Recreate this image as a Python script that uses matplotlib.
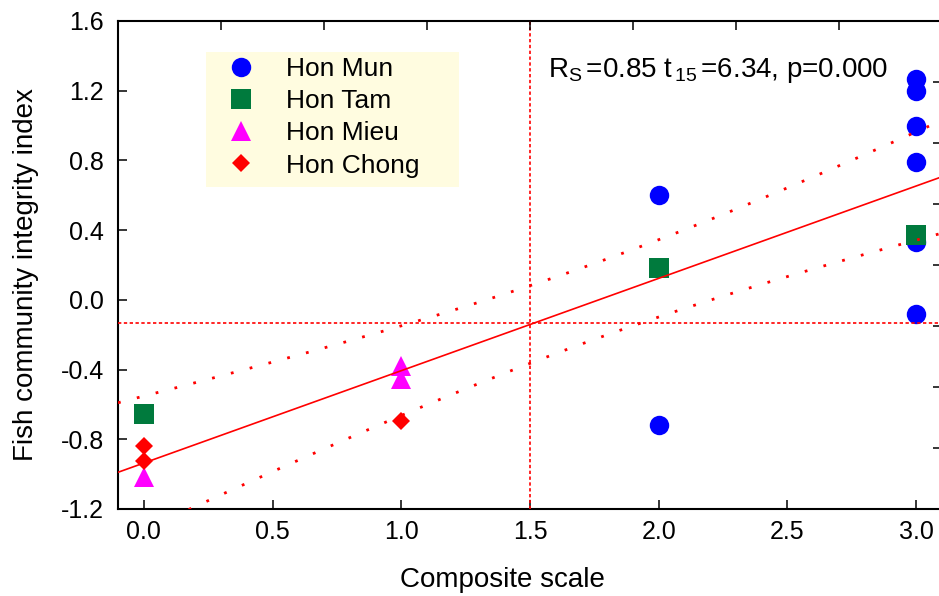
import numpy as np
import matplotlib
matplotlib.use("Agg")
import matplotlib.pyplot as plt
from matplotlib.patches import Rectangle

plt.rcParams['font.family'] = ['Liberation Sans', 'DejaVu Sans']
plt.rcParams['mathtext.fontset'] = 'custom'
plt.rcParams['mathtext.rm'] = 'Liberation Sans'
plt.rcParams['mathtext.it'] = 'Liberation Sans'
plt.rcParams['mathtext.default'] = 'rm'

# ---- data ----
series_names = ["Hon Mun", "Hon Tam", "Hon Mieu", "Hon Chong"]
mun_x = [2, 2, 3, 3, 3, 3, 3, 3]
mun_y = [0.60, -0.72, 1.27, 1.20, 1.00, 0.79, 0.33, -0.08]
tam_x = [0, 2, 3]
tam_y = [-0.655, 0.18, 0.375]
mieu_x = [0, 1, 1]
mieu_y = [-1.015, -0.38, -0.455]
chong_x = [0, 0, 1]
chong_y = [-0.84, -0.925, -0.695]

ref_x = 1.5
ref_y = -0.135
t_crit = 2.131  # t(0.975, 15)

x_ticks = [0.0, 0.5, 1.0, 1.5, 2.0, 2.5, 3.0]
x_ticklabels = ["0.0", "0.5", "1.0", "1.5", "2.0", "2.5", "3.0"]
y_ticks = [-1.2, -0.8, -0.4, 0.0, 0.4, 0.8, 1.2, 1.6]
y_ticklabels = ["-1.2", "-0.8", "-0.4", "0.0", "0.4", "0.8", "1.2", "1.6"]
annotation = r"R$_{\mathrm{S}}$$\,$=0.85 t$_{\,15}$$\,$=6.34, p=0.000"

# ---- figure ----
W, H = 939, 596
fig = plt.figure(figsize=(W / 100, H / 100), dpi=100)
ax = fig.add_axes([118 / W, 87 / H, 824 / W, 488 / H])
xlim = (-0.1, 3.1)
ylim = (-1.2, 1.6)
ax.set_xlim(*xlim)
ax.set_ylim(*ylim)

blue = '#0000FF'
green = '#007A3D'
magenta = '#FF00FF'
red = '#FF0000'

ax.plot(mun_x, mun_y, 'o', color=blue, ms=14, mew=0, ls='none', label=series_names[0], zorder=3)
ax.plot(tam_x, tam_y, 's', color=green, ms=14.5, mew=0, ls='none', label=series_names[1], zorder=3)
ax.plot(mieu_x, mieu_y, '^', color=magenta, ms=14, mew=0, ls='none', label=series_names[2], zorder=3)
ax.plot(chong_x, chong_y, 'D', color=red, ms=9, mew=0, ls='none', label=series_names[3], zorder=3)

# regression with 95% confidence band, from the data
xa = np.array(mun_x + tam_x + mieu_x + chong_x, dtype=float)
ya = np.array(mun_y + tam_y + mieu_y + chong_y, dtype=float)
n = len(xa)
slope, intercept = np.polyfit(xa, ya, 1)
resid = ya - (slope * xa + intercept)
s = np.sqrt(np.sum(resid ** 2) / (n - 2))
xm = xa.mean()
sxx = np.sum((xa - xm) ** 2)
xs = np.linspace(xlim[0], xlim[1], 300)
fit = slope * xs + intercept
half = t_crit * s * np.sqrt(1.0 / n + (xs - xm) ** 2 / sxx)
ax.plot(xs, fit, '-', color=red, lw=1.2, zorder=4)
ax.plot(xs, fit + half, color=red, lw=2.0, ls=(0, (1, 6)), zorder=4)
ax.plot(xs, fit - half, color=red, lw=2.0, ls=(0, (1, 6)), zorder=4)
ax.axhline(ref_y, color=red, lw=1.2, ls=(0, (2, 1.5)), zorder=4)
ax.axvline(ref_x, color=red, lw=1.2, ls=(0, (2, 1.5)), zorder=4)

# legend box
ax.add_patch(Rectangle((88 / 824, (509 - 187) / 488), 253 / 824, 135 / 488,
                       transform=ax.transAxes, facecolor='#FFFCE0', edgecolor='none', zorder=1))
leg = ax.legend(loc='upper left', bbox_to_anchor=((223 - 118) / 824, (509 - 57) / 488),
                frameon=False, borderpad=0, borderaxespad=0, handlelength=1.4,
                handletextpad=1.0, labelspacing=0.31, numpoints=1, fontsize=19)
leg.set_zorder(5)

# ticks
ax.set_xticks(x_ticks)
ax.set_xticklabels(x_ticklabels)
ax.set_yticks(y_ticks)
ax.set_yticklabels(y_ticklabels)
ax.tick_params(direction='in', length=6.3, width=1.1, labelsize=18, pad=10)
ax.tick_params(axis='x', pad=8)
for sp in ax.spines.values():
    sp.set_linewidth(1.5)

axt = ax.twiny()
axt.set_xlim(*xlim)
axt.set_xticks(np.linspace(xlim[0], xlim[1], 9))
axt.set_xticklabels([])
axt.tick_params(direction='in', length=6.3, width=1.1)
axr = ax.twinx()
axr.set_ylim(*ylim)
axr.set_yticks(np.linspace(ylim[0], ylim[1], 9))
axr.set_yticklabels([])
axr.tick_params(direction='in', length=6.3, width=1.1)
for a in (axt, axr):
    for sp in a.spines.values():
        sp.set_visible(False)

fig.text(502 / W, 1 - 587 / H, "Composite scale", ha='center', va='baseline', fontsize=20)
fig.text(26 / W, 1 - 275 / H, "Fish community integrity index", ha='center', va='center',
         rotation=90, fontsize=20)
fig.text(548 / W, 1 - 77 / H, annotation, ha='left', va='baseline', fontsize=20)

fig.savefig("out.png", dpi=100)
